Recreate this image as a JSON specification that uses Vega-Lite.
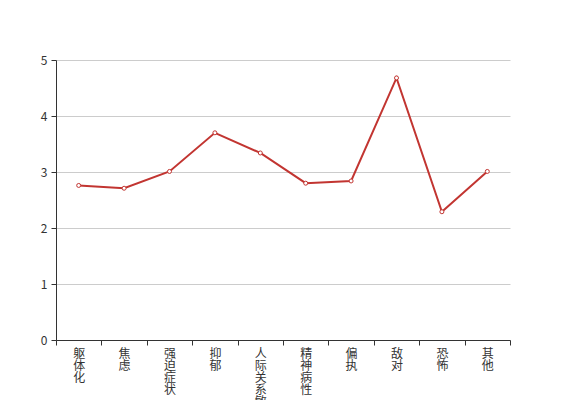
{
  "$schema": "https://vega.github.io/schema/vega-lite/v6.json",
  "autosize": "none",
  "width": 454,
  "height": 280,
  "padding": {"left": 56, "top": 60, "right": 57, "bottom": 60},
  "background": "white",
  "config": {
    "view": {"stroke": null},
    "font": "Noto Sans CJK SC"
  },
  "data": {
    "values": [
      {"factor": "躯体化", "score": 2.76},
      {"factor": "焦虑", "score": 2.71},
      {"factor": "强迫症状", "score": 3.01},
      {"factor": "抑郁", "score": 3.7},
      {"factor": "人际关系敏感", "score": 3.34},
      {"factor": "精神病性", "score": 2.8},
      {"factor": "偏执", "score": 2.84},
      {"factor": "敌对", "score": 4.68},
      {"factor": "恐怖", "score": 2.29},
      {"factor": "其他", "score": 3.01}
    ]
  },
  "mark": {
    "type": "line",
    "color": "#c23531",
    "strokeWidth": 2,
    "point": {"filled": true, "fill": "white", "stroke": "#c23531", "strokeWidth": 1, "size": 16, "opacity": 1}
  },
  "encoding": {
    "x": {
      "field": "factor",
      "type": "nominal",
      "sort": null,
      "title": null,
      "scale": {"paddingInner": 0, "paddingOuter": 0},
      "axis": {
        "labelAngle": 0,
        "labelExpr": "split(datum.label, '')",
        "labelLineHeight": 12,
        "labelFontSize": 12,
        "labelColor": "#333",
        "labelBaseline": "top",
        "labelPadding": 3,
        "tickBand": "extent",
        "tickSize": 5,
        "tickColor": "#333",
        "domainColor": "#333",
        "labelFont": "Noto Sans CJK SC",
        "grid": false
      }
    },
    "y": {
      "field": "score",
      "type": "quantitative",
      "title": null,
      "scale": {"domain": [0, 5], "nice": false, "zero": true},
      "axis": {
        "values": [0, 1, 2, 3, 4, 5],
        "labelFontSize": 12,
        "labelColor": "#333",
        "labelPadding": 4,
        "tickSize": 5,
        "tickColor": "#333",
        "domainColor": "#333",
        "gridColor": "#ccc",
        "labelFont": "Noto Sans CJK SC"
      }
    }
  }
}
